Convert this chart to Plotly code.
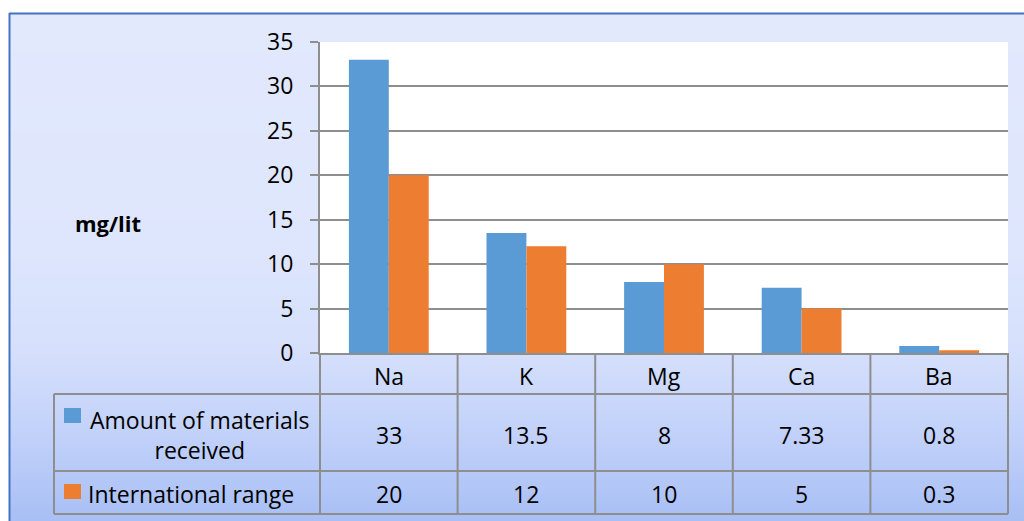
import plotly.graph_objects as go

# Concentrations of elements (mg/lit)
elements = ["Na", "K", "Mg", "Ca", "Ba"]
received = [33, 13.5, 8, 7.33, 0.8]
international = [20, 12, 10, 5, 0.3]
series_names = ["Amount of materials received", "International range"]
row_labels = ["Amount of materials<br>received", "International range"]
y_ticks = [0, 5, 10, 15, 20, 25, 30, 35]

BLUE = "#5B9BD5"
ORANGE = "#ED7D31"
GRID = "#8E8E8E"
FONT = "Open Sans"

# Figure geometry in pixels
W, H = 1024, 521
L, R, T, B = 320, 1008, 42, 353


def px(x):
    return (x - L) / (R - L)


def py(y):
    return (B - y) / (B - T)


fig = go.Figure()
fig.add_trace(go.Bar(x=elements, y=received, name=series_names[0],
                     marker=dict(color=BLUE, line=dict(width=0))))
fig.add_trace(go.Bar(x=elements, y=international, name=series_names[1],
                     marker=dict(color=ORANGE, line=dict(width=0))))

shapes = []

# Vertical background gradient behind the chart frame
stops = [(13, (0xE2, 0xE9, 0xFD)), (250, (0xDE, 0xE6, 0xFD)), (350, (0xD6, 0xE0, 0xFC)),
         (430, (0xC3, 0xD2, 0xFA)), (521, (0xA8, 0xBF, 0xF5))]


def shade(y):
    for (y0, c0), (y1, c1) in zip(stops[:-1], stops[1:]):
        if y0 <= y <= y1:
            t = (y - y0) / (y1 - y0)
            return "rgb(%d,%d,%d)" % tuple(round(a + (b - a) * t) for a, b in zip(c0, c1))
    return "rgb(%d,%d,%d)" % stops[-1][1]


step = 3
y = 13
while y < H:
    y2 = min(y + step, H)
    shapes.append(dict(type="rect", xref="paper", yref="paper", layer="below",
                       x0=px(9), x1=px(W), y0=py(y), y1=py(y2),
                       fillcolor=shade((y + y2) / 2), line=dict(width=0)))
    y = y2

# White plotting area
shapes.append(dict(type="rect", xref="paper", yref="paper", layer="below",
                   x0=0, x1=1, y0=0, y1=1, fillcolor="white", line=dict(width=0)))

# Chart frame border (top and left)
shapes.append(dict(type="line", xref="paper", yref="paper", x0=px(9), x1=px(W),
                   y0=py(13.5), y1=py(13.5), line=dict(color="#4472C4", width=2)))
shapes.append(dict(type="line", xref="paper", yref="paper", x0=px(9.5), x1=px(9.5),
                   y0=py(13), y1=py(H), line=dict(color="#4472C4", width=2)))

# Data table grid
tbl = dict(color=GRID, width=2)
for yy in (394, 471, 514):
    shapes.append(dict(type="line", xref="paper", yref="paper", x0=px(54), x1=px(R),
                       y0=py(yy), y1=py(yy), line=tbl))
shapes.append(dict(type="line", xref="paper", yref="paper", x0=px(54), x1=px(54),
                   y0=py(394), y1=py(514), line=tbl))
n = len(elements)
for k in range(n + 1):
    xx = k / n
    shapes.append(dict(type="line", xref="paper", yref="paper", x0=xx, x1=xx,
                       y0=0, y1=py(514), line=tbl))

# Legend keys inside the table
shapes.append(dict(type="rect", xref="paper", yref="paper", x0=px(64), x1=px(81),
                   y0=py(408), y1=py(423), fillcolor=BLUE, line=dict(width=0)))
shapes.append(dict(type="rect", xref="paper", yref="paper", x0=px(64), x1=px(81),
                   y0=py(484), y1=py(499), fillcolor=ORANGE, line=dict(width=0)))

ann = []
txt = dict(family=FONT, size=23, color="black")
for i, el in enumerate(elements):
    ann.append(dict(x=el, xref="x", y=py(376), yref="paper", text=el, showarrow=False,
                    font=txt, xanchor="center", yanchor="middle"))
    ann.append(dict(x=el, xref="x", y=py(435), yref="paper", text=f"{received[i]:g}",
                    showarrow=False, font=txt, xanchor="center", yanchor="middle"))
    ann.append(dict(x=el, xref="x", y=py(494), yref="paper", text=f"{international[i]:g}",
                    showarrow=False, font=txt, xanchor="center", yanchor="middle"))

ann.append(dict(x=px(200), xref="paper", y=py(435), yref="paper", text=row_labels[0],
                showarrow=False, font=txt, xanchor="center", yanchor="middle", align="center"))
ann.append(dict(x=px(86), xref="paper", y=py(494), yref="paper", text=row_labels[1],
                showarrow=False, font=txt, xanchor="left", yanchor="middle"))

# Axis title
ann.append(dict(x=px(108), xref="paper", y=py(223), yref="paper", text="<b>mg/lit</b>",
                showarrow=False, font=dict(family=FONT, size=22, color="black"),
                xanchor="center", yanchor="middle"))

fig.update_layout(
    width=W, height=H,
    margin=dict(l=L, r=W - R, t=T, b=H - B, pad=0),
    paper_bgcolor="white", plot_bgcolor="white",
    barmode="group", bargap=0.42, bargroupgap=0,
    showlegend=False,
    shapes=shapes, annotations=ann,
    font=dict(family=FONT, size=23, color="black"),
    xaxis=dict(showticklabels=False, ticks="", showgrid=False, showline=True,
               linecolor=GRID, linewidth=2, zeroline=False),
    yaxis=dict(range=[0, 35], tickvals=y_ticks, ticks="outside", ticklen=8,
               tickcolor=GRID, tickwidth=2, showline=True, linecolor=GRID, linewidth=2,
               showgrid=True, gridcolor=GRID, gridwidth=2, zeroline=False,
               ticklabelstandoff=12, tickfont=dict(family=FONT, size=23, color="black")),
)

fig.write_html("out.html")
